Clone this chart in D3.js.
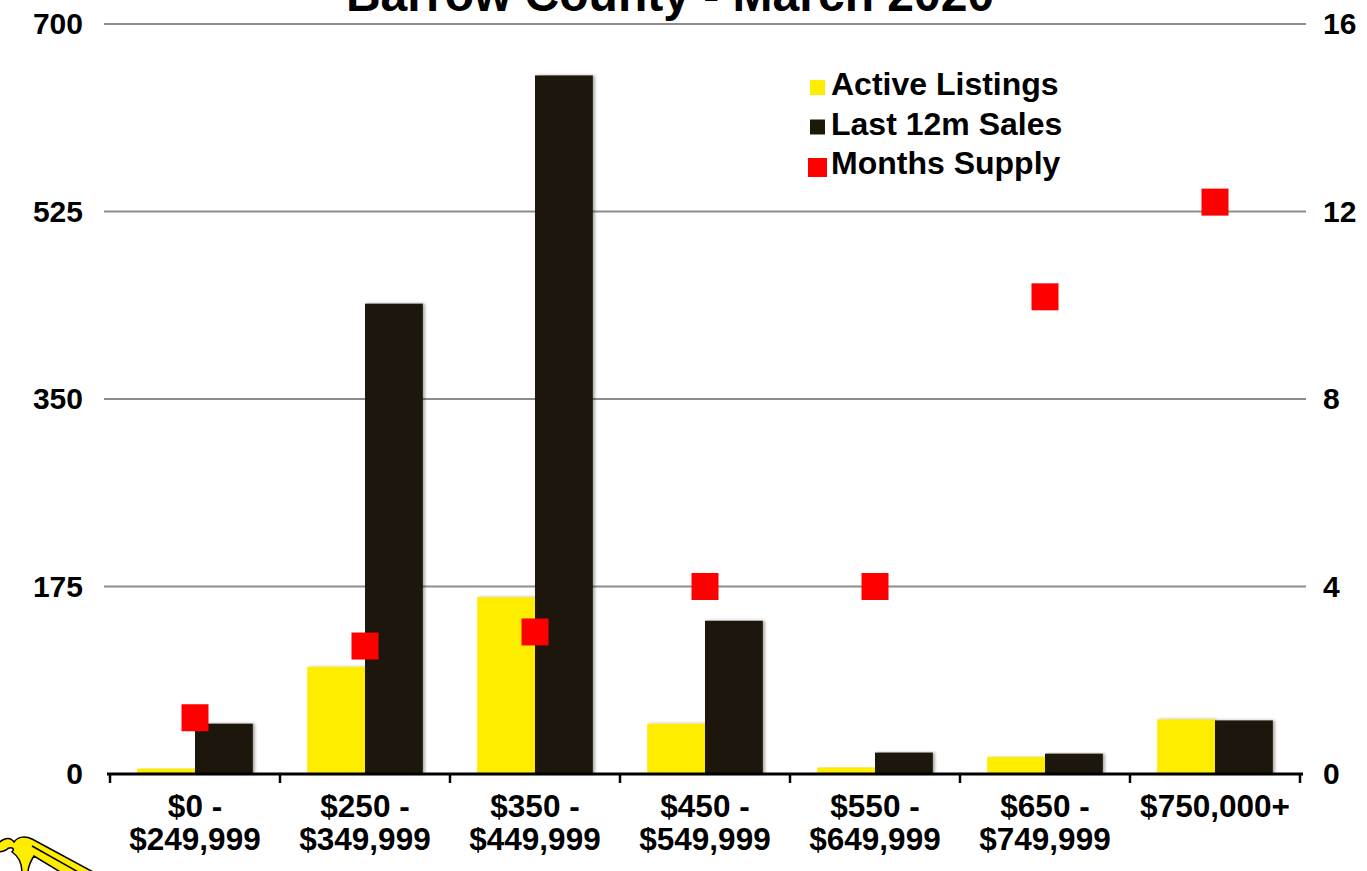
<!DOCTYPE html>
<html>
<head>
<meta charset="utf-8">
<script src="https://cdn.jsdelivr.net/npm/d3@7"></script>
<style>
  body { margin: 0; background: #fff; }
  svg { display: block; font-family: "Liberation Sans", Arial, sans-serif; font-weight: bold; }
</style>
</head>
<body>
<svg id="chart" width="1367" height="871"></svg>
<script>
(function (d3) {
  'use strict';

  const categories = [
    ['$0 -', '$249,999'],
    ['$250 -', '$349,999'],
    ['$350 -', '$449,999'],
    ['$450 -', '$549,999'],
    ['$550 -', '$649,999'],
    ['$650 -', '$749,999'],
    ['$750,000+']
  ];
  const activeListings = [5, 100, 165, 47, 6, 16, 51];
  const lastSales = [47, 439, 652, 143, 20, 19, 50];
  const monthsSupply = [1.2, 2.73, 3.03, 4.0, 4.0, 10.18, 12.2];
  const leftTicks = [0, 175, 350, 525, 700];
  const rightTicks = [0, 4, 8, 12, 16];

  const YELLOW = '#ffed00';
  const DARK = '#1c1907';
  const RED = '#ff0000';

  const left = 110, right = 1300, top = 24, bottom = 774;

  const svg = d3.select('#chart');

  const defs = svg.append('defs');
  const shadow = defs.append('filter').attr('id', 'shadow')
    .attr('x', '-20%').attr('y', '-5%').attr('width', '140%').attr('height', '110%');
  shadow.append('feDropShadow')
    .attr('dx', 2).attr('dy', 0).attr('stdDeviation', 1.5)
    .attr('flood-color', '#000').attr('flood-opacity', 0.35);

  const x = d3.scaleBand()
    .domain(d3.range(categories.length))
    .range([left, right]);

  const inner = d3.scaleBand()
    .domain(['active', 'sales'])
    .range([0, x.bandwidth()])
    .paddingOuter(0.47)
    .paddingInner(0);

  const yLeft = d3.scaleLinear().domain([0, 700]).range([bottom, top]);
  const yRight = d3.scaleLinear().domain([0, 16]).range([bottom, top]);

  // title, clipped at the top like the source
  svg.append('text')
    .attr('x', 670).attr('y', 11)
    .attr('text-anchor', 'middle')
    .attr('font-size', 48)
    .attr('fill', '#000')
    .text('Barrow County - March 2020');

  // gridlines
  svg.append('g')
    .selectAll('line')
    .data(leftTicks.filter(d => d > 0))
    .enter()
    .append('line')
    .attr('x1', left - 6).attr('x2', right + 6)
    .attr('y1', d => yLeft(d)).attr('y2', d => yLeft(d))
    .attr('stroke', '#8c8c8c')
    .attr('stroke-width', 2);

  // left axis labels
  svg.append('g')
    .selectAll('text')
    .data(leftTicks)
    .enter()
    .append('text')
    .attr('x', 83)
    .attr('y', d => yLeft(d) + 10)
    .attr('text-anchor', 'end')
    .attr('font-size', 30)
    .text(d => d);

  // right axis labels
  svg.append('g')
    .selectAll('text')
    .data(rightTicks)
    .enter()
    .append('text')
    .attr('x', 1323)
    .attr('y', d => yRight(d) + 10)
    .attr('text-anchor', 'start')
    .attr('font-size', 30)
    .text(d => d);

  // bars
  const groups = svg.append('g')
    .selectAll('g')
    .data(categories.map((c, i) => i))
    .enter()
    .append('g')
    .attr('transform', i => `translate(${x(i)},0)`);

  groups.append('rect')
    .attr('x', inner('active'))
    .attr('width', inner.bandwidth())
    .attr('y', i => yLeft(activeListings[i]))
    .attr('height', i => bottom - yLeft(activeListings[i]))
    .attr('fill', YELLOW)
    .attr('filter', 'url(#shadow)');

  groups.append('rect')
    .attr('x', inner('sales'))
    .attr('width', inner.bandwidth())
    .attr('y', i => yLeft(lastSales[i]))
    .attr('height', i => bottom - yLeft(lastSales[i]))
    .attr('fill', DARK)
    .attr('filter', 'url(#shadow)');

  // x axis
  svg.append('line')
    .attr('x1', left - 3).attr('x2', right + 3)
    .attr('y1', bottom).attr('y2', bottom)
    .attr('stroke', '#000').attr('stroke-width', 3);

  svg.append('g')
    .selectAll('line')
    .data(d3.range(categories.length + 1))
    .enter()
    .append('line')
    .attr('x1', i => left + i * x.step())
    .attr('x2', i => left + i * x.step())
    .attr('y1', bottom).attr('y2', bottom + 9)
    .attr('stroke', '#000').attr('stroke-width', 2.5);

  // category labels
  const labels = svg.append('g')
    .selectAll('text')
    .data(categories)
    .enter()
    .append('text')
    .attr('x', (d, i) => x(i) + x.bandwidth() / 2)
    .attr('y', 817)
    .attr('text-anchor', 'middle')
    .attr('font-size', 31.5);

  labels.selectAll('tspan')
    .data(d => d)
    .enter()
    .append('tspan')
    .attr('x', function () { return d3.select(this.parentNode).attr('x'); })
    .attr('dy', (d, j) => j === 0 ? 0 : 33)
    .text(d => d);

  // months supply markers
  const MARK = 27;
  svg.append('g')
    .selectAll('rect')
    .data(monthsSupply)
    .enter()
    .append('rect')
    .attr('x', (d, i) => x(i) + x.bandwidth() / 2 - MARK / 2)
    .attr('y', d => yRight(d) - MARK / 2)
    .attr('width', MARK).attr('height', MARK)
    .attr('fill', RED);

  // legend
  const legendItems = [
    { label: 'Active Listings', color: YELLOW, size: 15 },
    { label: 'Last 12m Sales', color: DARK, size: 15 },
    { label: 'Months Supply', color: RED, size: 19 }
  ];
  const legend = svg.append('g')
    .selectAll('g')
    .data(legendItems)
    .enter()
    .append('g')
    .attr('transform', (d, i) => `translate(0,${95 + i * 39.5})`);

  legend.append('rect')
    .attr('x', d => 817.5 - d.size / 2)
    .attr('y', d => -d.size + (d.size > 15 ? 3 : 0))
    .attr('width', d => d.size)
    .attr('height', d => d.size)
    .attr('fill', d => d.color);

  legend.append('text')
    .attr('x', 831)
    .attr('y', 0)
    .attr('font-size', 32)
    .text(d => d.label);

  // corner logo fragment
  const logo = svg.append('g')
    .attr('fill', YELLOW)
    .attr('stroke', '#000')
    .attr('stroke-width', 1.5);
  logo.append('path')
    .attr('d', 'M-4,846 C2,838 10,836 14,842 C18,836 26,836 32,839 L95,873 L62,873 L34,856 C30,862 28,868 28,873 L22,873 C22,864 18,856 12,852 C16,848 10,846 6,850 C2,852 -2,852 -4,850 Z');
  logo.append('path')
    .attr('d', 'M32,846 L80,873')
    .attr('fill', 'none');

}(d3));
</script>
</body>
</html>
